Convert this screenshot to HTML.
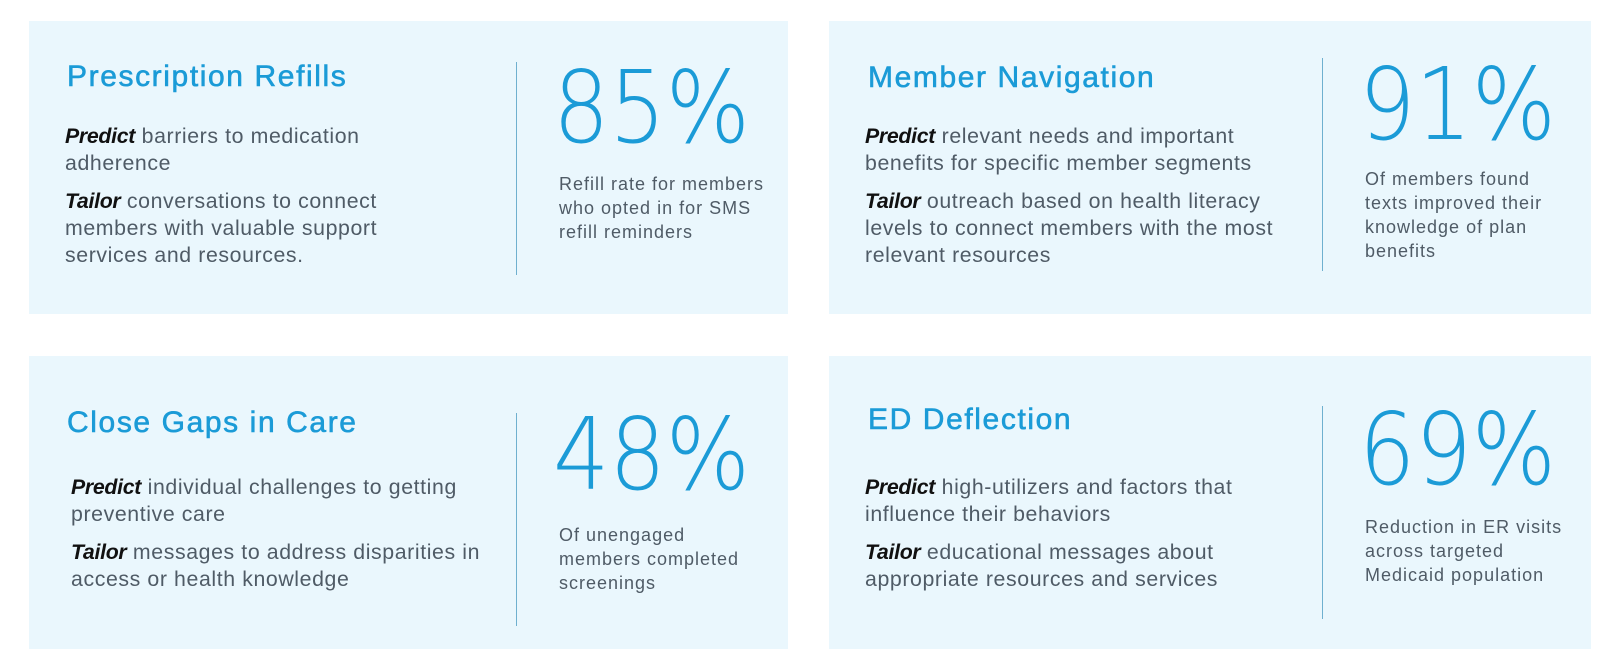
<!DOCTYPE html>
<html><head><meta charset="utf-8"><style>
body{margin:0;width:1614px;height:670px;background:#fff;position:relative;overflow:hidden;font-family:"Liberation Sans",sans-serif}
.card{position:absolute;width:759px;height:293px;background:#eaf7fd}
.t{position:absolute;font-size:30px;color:#1b9bd7;line-height:36px;white-space:nowrap;letter-spacing:1.6px;-webkit-text-stroke:0.6px #1b9bd7}
.b{position:absolute;font-size:21.3px;color:#4f5b66;line-height:27px;white-space:nowrap;letter-spacing:0.6px}
.b i{color:#111;font-weight:bold;letter-spacing:-0.3px}
.div{position:absolute;width:1px;background:#6fb0cf}
.n{position:absolute;overflow:visible}
.n text{font-family:"DejaVu Sans ExtraLight","DejaVu Sans",sans-serif;font-weight:200;font-size:100px;fill:#1b9bd7}
.d{position:absolute;font-size:18px;color:#4f5b66;line-height:24px;white-space:nowrap;letter-spacing:1px}
</style></head><body>
<div class="card" style="left:29px;top:21px">
 <div class="t" style="left:38px;top:38px">Prescription Refills</div>
 <div class="b" style="left:36px;top:102px"><i>Predict</i> barriers to medication<br>adherence</div>
 <div class="b" style="left:36px;top:167px"><i>Tailor</i> conversations to connect<br>members with valuable support<br>services and resources.</div>
 <div class="div" style="left:487px;top:41px;height:213px"></div>
 <svg class="n" style="left:520px;top:30px" width="240" height="110"><text x="4" y="91" textLength="197" lengthAdjust="spacingAndGlyphs">85%</text></svg>
 <div class="d" style="left:530px;top:151px">Refill rate for members<br>who opted in for SMS<br>refill reminders</div>
</div>
<div class="card" style="left:829px;top:21px;width:762px">
 <div class="t" style="left:39px;top:39px">Member Navigation</div>
 <div class="b" style="left:36px;top:102px"><i>Predict</i> relevant needs and important<br>benefits for specific member segments</div>
 <div class="b" style="left:36px;top:167px"><i>Tailor</i> outreach based on health literacy<br>levels to connect members with the most<br>relevant resources</div>
 <div class="div" style="left:493px;top:37px;height:213px"></div>
 <svg class="n" style="left:526px;top:27px" width="240" height="110"><text x="4" y="91" textLength="197" lengthAdjust="spacingAndGlyphs">91%</text></svg>
 <div class="d" style="left:536px;top:146px">Of members found<br>texts improved their<br>knowledge of plan<br>benefits</div>
</div>
<div class="card" style="left:29px;top:356px;height:293px">
 <div class="t" style="left:38px;top:49px">Close Gaps in Care</div>
 <div class="b" style="left:42px;top:118px"><i>Predict</i> individual challenges to getting<br>preventive care</div>
 <div class="b" style="left:42px;top:183px"><i>Tailor</i> messages to address disparities in<br>access or health knowledge</div>
 <div class="div" style="left:487px;top:57px;height:213px"></div>
 <svg class="n" style="left:520px;top:42px" width="240" height="110"><text x="4" y="91" textLength="197" lengthAdjust="spacingAndGlyphs">48%</text></svg>
 <div class="d" style="left:530px;top:167px">Of unengaged<br>members completed<br>screenings</div>
</div>
<div class="card" style="left:829px;top:356px;width:762px;height:293px">
 <div class="t" style="left:39px;top:46px">ED Deflection</div>
 <div class="b" style="left:36px;top:118px"><i>Predict</i> high-utilizers and factors that<br>influence their behaviors</div>
 <div class="b" style="left:36px;top:183px"><i>Tailor</i> educational messages about<br>appropriate resources and services</div>
 <div class="div" style="left:493px;top:50px;height:213px"></div>
 <svg class="n" style="left:526px;top:37px" width="240" height="110"><text x="4" y="91" textLength="197" lengthAdjust="spacingAndGlyphs">69%</text></svg>
 <div class="d" style="left:536px;top:159px">Reduction in ER visits<br>across targeted<br>Medicaid population</div>
</div>
</body></html>
